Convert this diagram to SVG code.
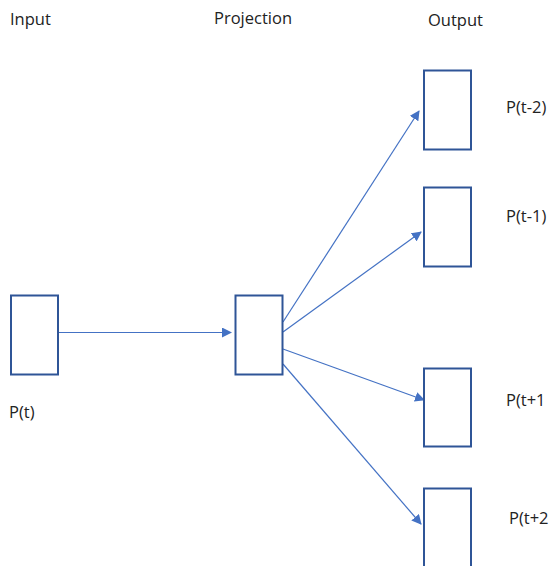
<svg xmlns="http://www.w3.org/2000/svg" width="549" height="566" viewBox="0 0 549 566">
<style>
.box{fill:#fff;stroke:#2F5597;stroke-width:2}
.lbl{font-family:"Open Sans","Liberation Sans",sans-serif;font-size:16.5px;fill:#222}
.edge{stroke:#4472C4;stroke-width:1.2;fill:none;marker-end:url(#arr)}
</style>
<defs>
<marker id="arr" viewBox="0 0 10 10" refX="9" refY="5" markerWidth="10" markerHeight="10" markerUnits="userSpaceOnUse" orient="auto">
<path d="M0,0 L10,5 L0,10 z" fill="#4472C4"/>
</marker>
</defs>
<rect width="549" height="566" fill="#fff"/>
<text class="lbl" x="10" y="25">Input</text>
<text class="lbl" x="214" y="24">Projection</text>
<text class="lbl" x="428" y="26">Output</text>
<g id="connectors">
<line class="edge" x1="59" y1="332.5" x2="231" y2="332.5"/>
<line class="edge" x1="283" y1="322" x2="419" y2="111"/>
<line class="edge" x1="283" y1="332" x2="421" y2="232"/>
<line class="edge" x1="283" y1="349" x2="424" y2="400"/>
<line class="edge" x1="283" y1="364" x2="421" y2="524"/>
</g>
<g id="input"><rect class="box" x="11" y="295.5" width="47" height="79"/><text class="lbl" x="9" y="418">P(t)</text></g>
<g id="projection"><rect class="box" x="235.5" y="295.5" width="47" height="79"/></g>
<g id="out1"><rect class="box" x="424" y="70.5" width="47" height="79"/><text class="lbl" x="506" y="113">P(t-2)</text></g>
<g id="out2"><rect class="box" x="424" y="187.5" width="47" height="79"/><text class="lbl" x="506" y="222">P(t-1)</text></g>
<g id="out3"><rect class="box" x="424" y="368.5" width="47" height="78"/><text class="lbl" x="506" y="406">P(t+1</text></g>
<g id="out4"><rect class="box" x="424" y="488.5" width="47" height="79"/><text class="lbl" x="509" y="524">P(t+2</text></g>
</svg>
